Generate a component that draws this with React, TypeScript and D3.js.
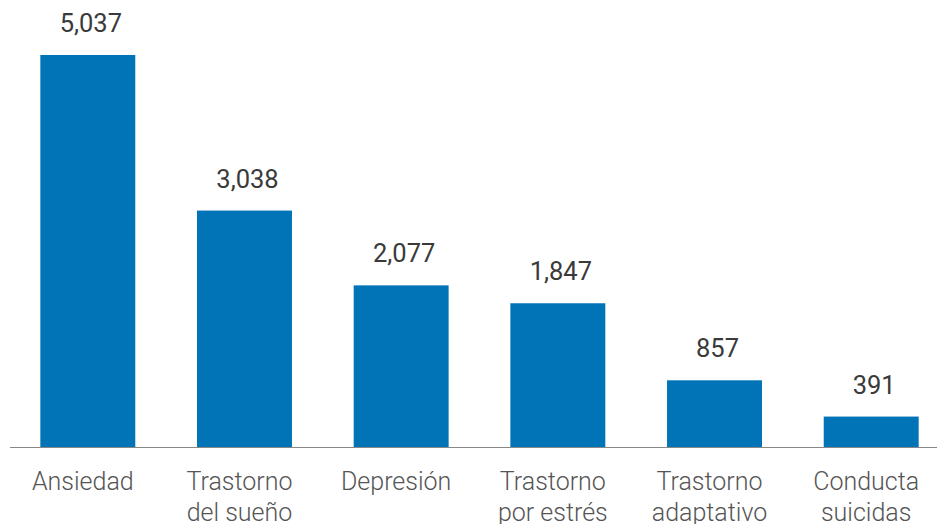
import React from "react";
import * as d3 from "d3";

const categories: string[][] = [
  ["Ansiedad"],
  ["Trastorno", "del sueño"],
  ["Depresión"],
  ["Trastorno", "por estrés"],
  ["Trastorno", "adaptativo"],
  ["Conducta", "suicidas"],
];
const values: number[] = [5037, 3038, 2077, 1847, 857, 391];

const W = 937;
const H = 524;

export default function App() {
  const idx = categories.map((_, i) => String(i));
  const x = d3.scaleBand<string>().domain(idx).range([9, 950]).paddingInner(0.394).paddingOuter(0.2);
  const y = d3.scaleLinear().domain([0, 5037]).range([447, 55]);
  const fmt = d3.format(",");
  return (
    <svg
      width={W}
      height={H}
      style={{ position: "fixed", left: 0, top: 0, background: "#fff" }}
      fontFamily="Roboto, sans-serif"
    >
      {values.map((v, i) => {
        const cx = (x(String(i)) as number) + x.bandwidth() / 2;
        return (
          <g key={i}>
            <rect
              x={x(String(i))}
              y={y(v)}
              width={x.bandwidth()}
              height={y(0) - y(v) + 1}
              fill="#0074B6"
            />
            <text
              x={cx + 3}
              y={y(v) - 23}
              textAnchor="middle"
              fontSize={25.5}
              fontWeight={400}
              fill="#3a3a3a"
            >
              {fmt(v)}
            </text>
            <text
              x={cx - 5}
              y={490}
              textAnchor="middle"
              fontSize={25}
              fontWeight={300}
              fill="#555"
            >
              {categories[i].map((line, j) => (
                <tspan key={j} x={cx - 5} dy={j === 0 ? 0 : 31}>
                  {line}
                </tspan>
              ))}
            </text>
          </g>
        );
      })}
      <line x1={10} x2={937} y1={447.5} y2={447.5} stroke="#888" strokeWidth={1} />
    </svg>
  );
}
